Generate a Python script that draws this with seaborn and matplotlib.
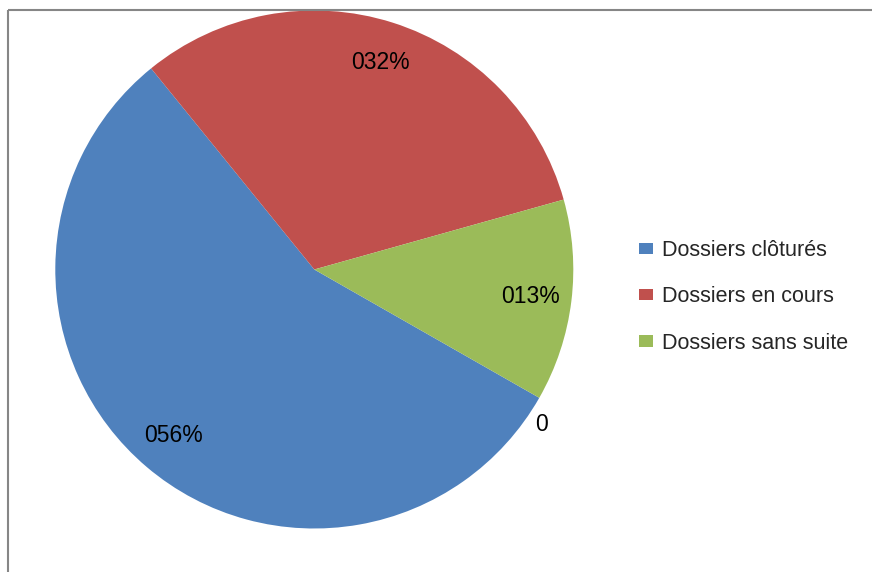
import numpy as np
import matplotlib
matplotlib.use("Agg")
import matplotlib.pyplot as plt
from matplotlib.lines import Line2D
from matplotlib import font_manager
import seaborn as sns

# Share of case files by status
categories = ["Dossiers clôturés", "Dossiers en cours", "Dossiers sans suite", ""]
shares = [0.559, 0.315, 0.126, 0.0]
colors = ["#4F81BD", "#C0504D", "#9BBB59", "#8064A2"]


def excel_pct(v):
    # "000%" number format; an empty share is shown as a bare 0
    if v == 0:
        return "0"
    return f"{v * 100:03.0f}%"


sns.set_theme(style="white")
plt.rcParams["font.family"] = ["Liberation Sans", "DejaVu Sans"]

# condensed face for the slice labels when it is installed
installed = {f.name for f in font_manager.fontManager.ttflist}
if "Liberation Sans Narrow" in installed:
    label_font = dict(family=["Liberation Sans Narrow", "Liberation Sans"], fontsize=19)
else:
    label_font = dict(family=["Liberation Sans", "DejaVu Sans"], fontsize=16.5)

W, H = 872, 572
fig = plt.figure(figsize=(W / 100, H / 100), dpi=100)
fig.patch.set_facecolor("white")

# pie centred at (314, 270) px with a 259 px radius
cx, cy, r = 314.3, 269.5, 259.0
ax = fig.add_axes([(cx - r) / W, (H - cy - r) / H, 2 * r / W, 2 * r / H])

wedges, texts = ax.pie(
    shares,
    colors=colors,
    startangle=-29.7,
    counterclock=False,
    labels=[excel_pct(v) for v in shares],
    labeldistance=0.84,
    wedgeprops=dict(linewidth=0),
    textprops=dict(color="black", **label_font),
)
ax.set_xlim(-1, 1)
ax.set_ylim(-1, 1)
ax.set_aspect("equal")
ax.axis("off")

for w, t, v in zip(wedges, texts, shares):
    t.set_ha("center")
    t.set_va("center")
    if v == 0:
        # empty slice: label sits just outside the rim
        ang = np.deg2rad(w.theta1)
        t.set_visible(False)
        ax.annotate(
            t.get_text(),
            xy=(np.cos(ang), np.sin(ang)),
            xytext=(-4, -15),
            textcoords="offset pixels",
            ha="left",
            va="top",
            color="black",
            annotation_clip=False,
            **label_font,
        )

# legend for the three named categories
leg = fig.legend(
    wedges[:3],
    categories[:3],
    loc="center left",
    bbox_to_anchor=(639 / W, 1 - 297 / H),
    frameon=False,
    fontsize=15.5,
    handlelength=0.65,
    handleheight=0.42,
    handletextpad=0.42,
    labelspacing=1.17,
    borderpad=0,
    borderaxespad=0,
)

# chart-area border (top and left edges)
bx, by = 8 / W, 1 - 10 / H
fig.add_artist(Line2D([bx, 1.0], [by, by], color="#868686", lw=1.5,
                      transform=fig.transFigure, solid_capstyle="butt"))
fig.add_artist(Line2D([bx, bx], [by, 0.0], color="#868686", lw=1.5,
                      transform=fig.transFigure, solid_capstyle="butt"))

fig.savefig("out.png", dpi=100, facecolor="white")
